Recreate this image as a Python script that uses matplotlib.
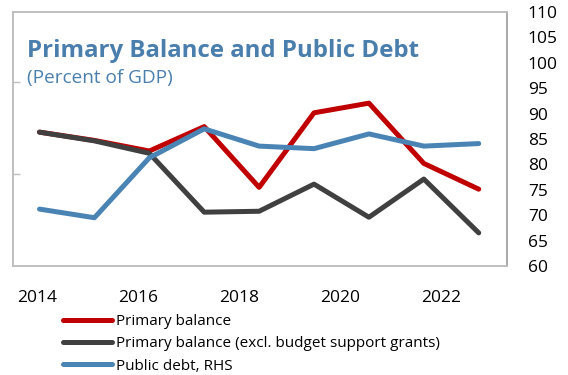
import matplotlib
matplotlib.use("Agg")
import matplotlib.pyplot as plt
from matplotlib.lines import Line2D

plt.rcParams['font.family'] = ['Open Sans', 'DejaVu Sans']

years = [2014, 2015, 2016, 2017, 2018, 2019, 2020, 2021, 2022]
primary_balance = [-3.09, -3.27, -3.50, -2.97, -4.29, -2.67, -2.46, -3.77, -4.33]
primary_balance_excl = [-3.09, -3.28, -3.55, -4.83, -4.81, -4.22, -4.94, -4.11, -5.28]
public_debt = [71.2, 69.5, 81.3, 87.0, 83.6, 83.1, 86.0, 83.6, 84.1]
xtick_labels = ["2014", "2016", "2018", "2020", "2022"]
right_ticks = [60, 65, 70, 75, 80, 85, 90, 95, 100, 105, 110]

RED = "#C00000"
GRAY = "#404040"
BLUE = "#4A84B4"
TITLE = "#4A7EAD"
FRAME = "#BFBFBF"

fig = plt.figure(figsize=(5.68, 3.75), dpi=100)
ax = fig.add_axes([13/568, 1 - 266/375, (507-13)/568, (266-12)/375])
ax2 = ax.twinx()

x = list(range(len(years)))
ax.plot(x, primary_balance, color=RED, lw=3.6, solid_capstyle='round', zorder=2)
ax.plot(x, primary_balance_excl, color=GRAY, lw=3.6, solid_capstyle='round', zorder=3)
ax2.plot(x, public_debt, color=BLUE, lw=3.6, solid_capstyle='round', zorder=4)

ax.set_xlim(-0.483, 8.515)
ax.set_ylim(-6, -6 + 254/46)
ax2.set_ylim(60, 110)

# category labels (as placed in the reference)
step = 1.84
ax.set_xticks([-0.046 + i*step for i in range(len(xtick_labels))])
ax.set_xticklabels(xtick_labels, fontsize=12.5)
ax.tick_params(axis='x', length=0, pad=17)

ax.set_yticks([-4, -2])
ax.set_yticklabels([])
ax.tick_params(axis='y', direction='in', length=5, color=FRAME, width=1)

ax2.set_yticks(right_ticks)
ax2.set_yticklabels([str(t) for t in right_ticks], fontsize=12.5)
ax2.tick_params(axis='y', length=0, pad=15)

for a in (ax, ax2):
    for s in a.spines.values():
        s.set_color(FRAME)
        s.set_linewidth(1.2)
ax2.spines['right'].set_color("#A6A6A6")

ax.patch.set_visible(False)

fig.text(27/568, 1 - 57/375, "Primary Balance and Public Debt", fontsize=17.3,
         fontweight='bold', color=TITLE, ha='left', va='baseline')
fig.text(27/568, 1 - 83/375, "(Percent of GDP)", fontsize=13.7, color=TITLE,
         ha='left', va='baseline')

handles = [Line2D([], [], color=RED, lw=3.6, solid_capstyle='round'),
           Line2D([], [], color=GRAY, lw=3.6, solid_capstyle='round'),
           Line2D([], [], color=BLUE, lw=3.6, solid_capstyle='round')]
labels = ["Primary balance", "Primary balance (excl. budget support grants)", "Public debt, RHS"]
fig.legend(handles, labels, loc='upper left', bbox_to_anchor=(63/568, 1 - 314/375),
           frameon=False, fontsize=11, handlelength=3.2, handletextpad=0.25,
           labelspacing=0.48, borderaxespad=0, borderpad=0)

fig.savefig("out.png", dpi=100)
